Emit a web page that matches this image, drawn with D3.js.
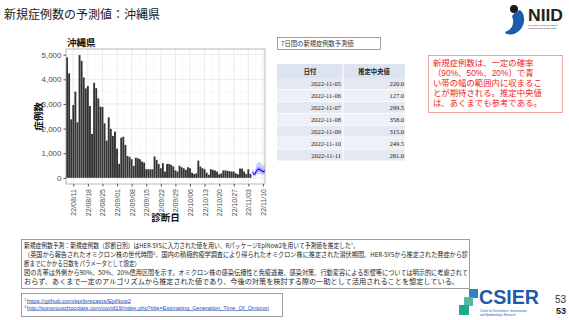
<!DOCTYPE html>
<html>
<head>
<meta charset="utf-8">
<script src="https://cdn.jsdelivr.net/npm/d3@7"></script>
<style>
  body { margin: 0; background: #fff; }
  svg { display: block; }
  text { font-family: "Noto Sans CJK JP", "Noto Sans", sans-serif; }
</style>
</head>
<body>
<div id="vue"></div>
<script>
// --- données ---
var obsStart = "2022-08-08";
var observed = [4890, 4240, 2375, 2955, 3500, 2255, 4980, 4750, 4075, 3630, 3725, 2915, 1780, 3860,
  3640, 3225, 2890, 2875, 2210, 1510, 2455, 1985, 1700, 1875, 1185, 570, 1630, 1670, 1335, 890,
  850, 755, 485, 820, 795, 755, 660, 620, 350, 350, 345, 350, 865, 730, 565, 390, 595, 255, 565,
  565, 525, 460, 300, 255, 490, 430, 390, 325, 430, 390, 210, 155, 180, 700, 460, 390, 350, 210,
  130, 350, 325, 300, 255, 145, 180, 300, 300, 285, 270, 255, 255, 180, 145, 375, 375, 255, 155,
  350, 160];

var fcDates = ["2022-11-05", "2022-11-06", "2022-11-07", "2022-11-08", "2022-11-09", "2022-11-10", "2022-11-11"];
var fcMedian = [220.0, 127.0, 299.5, 358.0, 315.0, 249.5, 281.0];
var fcLo90 = [100, 50, 140, 170, 150, 110, 120];
var fcHi90 = [380, 250, 560, 650, 600, 480, 540];
var fcLo50 = [160, 90, 210, 260, 230, 180, 200];
var fcHi50 = [290, 170, 400, 470, 420, 340, 370];
var fcLo20 = [195, 112, 265, 320, 280, 220, 250];
var fcHi20 = [245, 142, 335, 400, 355, 280, 315];

var yTicks = [0, 1000, 2000, 3000, 4000, 5000];
var xTicks = ["2022-08-11", "2022-08-18", "2022-08-25", "2022-09-01", "2022-09-08", "2022-09-15",
  "2022-09-22", "2022-09-29", "2022-10-06", "2022-10-13", "2022-10-20", "2022-10-27",
  "2022-11-03", "2022-11-10"];

var noteLines = [
  "新規症例数予測：新規症例数（診断日別）はHER-SYSに入力された値を用い、RパッケージEpiNow2を用いて予測値を推定した¹。",
  "（英国から報告されたオミクロン株の世代時間²、国内の積極的疫学調査により得られたオミクロン株に推定された潜伏期間、HER-SYSから推定された発症から診",
  "断までにかかる日数をパラメータとして設定）",
  "図の青帯は外側から90%、50%、20%信用区間を示す。オミクロン株の感染伝播性と免疫逃避、感染対策、行動変容による影響等については明示的に考慮されて",
  "おらず、あくまで一定のアルゴリズムから推定された値であり、今後の対策を検討する際の一助として活用されることを想定している。"
];
var noteWidths = [335, 444, 116, 444, 435];

var redLines = [
  "新規症例数は、一定の確率",
  "（90%、50%、20%）で青",
  "い帯の幅の範囲内に収まるこ",
  "とが期待される。推定中央値",
  "は、あくまでも参考である。"
];

var links = [
  "https://github.com/epiforecasts/EpiNow2",
  "http://sonorouschocolate.com/covid19/index.php?title=Estimating_Generation_Time_Of_Omicron"
];
var linkWidths = [104, 242];

var parse = d3.timeParse("%Y-%m-%d");
var day0 = parse(obsStart);
var obsData = observed.map(function (v, i) { return { date: d3.timeDay.offset(day0, i), value: v }; });
var fcData = fcDates.map(function (d, i) {
  return { date: parse(d), med: fcMedian[i], lo90: fcLo90[i], hi90: fcHi90[i],
    lo50: fcLo50[i], hi50: fcHi50[i], lo20: fcLo20[i], hi20: fcHi20[i] };
});

var W = 569, H = 320;
var svg = d3.select("#vue").append("svg").attr("width", W).attr("height", H);

// titre de la page
svg.append("text").attr("x", 4).attr("y", 19).attr("font-size", 12).attr("fill", "#222")
  .text("新規症例数の予測値：沖縄県");

// --- graphique ---
var P = { l: 66, r: 265, t: 49, b: 184 };
var x = d3.scaleTime()
  .domain([d3.timeHour.offset(day0, -12), parse("2022-11-11")])
  .range([P.l, P.r]);
var y = d3.scaleLinear().domain([-250, 5230]).range([P.b, P.t]);
var dayW = x(d3.timeDay.offset(day0, 1)) - x(day0);

var g = svg.append("g");
g.append("rect").attr("x", P.l).attr("y", P.t).attr("width", P.r - P.l).attr("height", P.b - P.t)
  .attr("fill", "#fff");

// grille mineure
var yMinor = d3.range(500, 5230, 1000);
g.selectAll("line.ymin").data(yMinor).enter().append("line")
  .attr("x1", P.l).attr("x2", P.r).attr("y1", function (d) { return y(d); }).attr("y2", function (d) { return y(d); })
  .attr("stroke", "#f3f3f3").attr("stroke-width", 0.5);
var xMinor = xTicks.map(function (d) { return d3.timeHour.offset(parse(d), -84); });
g.selectAll("line.xmin").data(xMinor).enter().append("line")
  .attr("y1", P.t).attr("y2", P.b).attr("x1", function (d) { return x(d); }).attr("x2", function (d) { return x(d); })
  .attr("stroke", "#f3f3f3").attr("stroke-width", 0.5);
// grille majeure
g.selectAll("line.ymaj").data(yTicks).enter().append("line")
  .attr("x1", P.l).attr("x2", P.r).attr("y1", function (d) { return y(d); }).attr("y2", function (d) { return y(d); })
  .attr("stroke", "#e6e6e6").attr("stroke-width", 0.8);
g.selectAll("line.xmaj").data(xTicks).enter().append("line")
  .attr("y1", P.t).attr("y2", P.b).attr("x1", function (d) { return x(parse(d)); }).attr("x2", function (d) { return x(parse(d)); })
  .attr("stroke", "#e6e6e6").attr("stroke-width", 0.8);

// barres
g.selectAll("rect.bar").data(obsData).enter().append("rect")
  .attr("x", function (d) { return x(d.date) - dayW * 0.45; })
  .attr("width", dayW * 0.9)
  .attr("y", function (d) { return y(d.value); })
  .attr("height", function (d) { return y(0) - y(d.value); })
  .attr("fill", "#333");

// bandes de prévision
function band(lo, hi) {
  return d3.area().x(function (d) { return x(d.date); })
    .y0(function (d) { return y(d[lo]); }).y1(function (d) { return y(d[hi]); });
}
[["lo90", "hi90"], ["lo50", "hi50"], ["lo20", "hi20"]].forEach(function (b) {
  g.append("path").datum(fcData).attr("d", band(b[0], b[1]))
    .attr("fill", "#2020ff").attr("fill-opacity", 0.22);
});
g.append("path").datum(fcData)
  .attr("d", d3.line().x(function (d) { return x(d.date); }).y(function (d) { return y(d.med); }))
  .attr("fill", "none").attr("stroke", "#0000e0").attr("stroke-width", 1);

// cadre
g.append("rect").attr("x", P.l).attr("y", P.t).attr("width", P.r - P.l).attr("height", P.b - P.t)
  .attr("fill", "none").attr("stroke", "#9a9a9a").attr("stroke-width", 0.7);

// axes
var yAxis = d3.axisLeft(y).tickValues(yTicks).tickFormat(d3.format(",")).tickSize(2.5).tickPadding(2);
var ya = g.append("g").attr("transform", "translate(" + P.l + ",0)").call(yAxis);
ya.select(".domain").remove();
ya.selectAll("text").attr("font-size", 8).attr("fill", "#4d4d4d").style("font-family", "Liberation Sans, Arial, sans-serif");
ya.selectAll("line").attr("stroke", "#555");

var xAxis = d3.axisBottom(x).tickValues(xTicks.map(parse)).tickFormat(d3.timeFormat("%y/%m/%d")).tickSize(2.5).tickPadding(2);
var xa = g.append("g").attr("transform", "translate(0," + P.b + ")").call(xAxis);
xa.select(".domain").remove();
xa.selectAll("line").attr("stroke", "#555");
xa.selectAll("text").attr("font-size", 7).attr("fill", "#4d4d4d")
  .style("font-family", "Liberation Sans, Arial, sans-serif")
  .attr("transform", "rotate(-90)").attr("text-anchor", "end")
  .attr("x", -5).attr("y", 0).attr("dy", "0.35em");

g.append("text").attr("x", 67).attr("y", 45.5).attr("font-size", 9.5).attr("font-weight", "bold")
  .attr("fill", "#111").text("沖縄県");
g.append("text").attr("transform", "translate(42," + ((P.t + P.b) / 2) + ") rotate(-90)")
  .attr("text-anchor", "middle").attr("font-size", 9.5).attr("font-weight", "bold").attr("fill", "#111")
  .text("症例数");
g.append("text").attr("x", (P.l + P.r) / 2).attr("y", 221).attr("text-anchor", "middle")
  .attr("font-size", 9.5).attr("font-weight", "bold").attr("fill", "#111").text("診断日");

// --- tableau ---
svg.append("rect").attr("x", 277.5).attr("y", 37.5).attr("width", 103).attr("height", 12)
  .attr("fill", "#fff").attr("stroke", "#777").attr("stroke-width", 0.7);
svg.append("text").attr("x", 281).attr("y", 46.2).attr("font-size", 6.3).attr("fill", "#333")
  .text("7日間の新規症例数予測値");

var T = { x: 277, w: 128, col: 343, top: 64, hh: 14, rh: 11.9 };
svg.append("rect").attr("x", T.x).attr("y", T.top).attr("width", T.w).attr("height", T.hh).attr("fill", "#dde3ef");
svg.append("text").attr("x", (T.x + T.col) / 2).attr("y", T.top + 9.5).attr("text-anchor", "middle")
  .attr("font-size", 6.3).attr("font-weight", "bold").attr("fill", "#222").text("日付");
svg.append("text").attr("x", (T.col + T.x + T.w) / 2).attr("y", T.top + 9.5).attr("text-anchor", "middle")
  .attr("font-size", 6.3).attr("font-weight", "bold").attr("fill", "#222").text("推定中央値");
var rows = svg.selectAll("g.row").data(fcData).enter().append("g")
  .attr("transform", function (d, i) { return "translate(0," + (T.top + T.hh + i * T.rh) + ")"; });
rows.append("rect").attr("x", T.x).attr("width", T.w).attr("height", T.rh - 0.8)
  .attr("fill", function (d, i) { return i % 2 ? "#edf0f7" : "#e3e8f2"; });
rows.append("text").attr("x", T.col - 2).attr("y", T.rh / 2 + 2.2).attr("text-anchor", "end")
  .attr("font-size", 6.5).style("font-family", "Liberation Serif, serif").attr("fill", "#222")
  .text(function (d) { return d3.timeFormat("%Y-%m-%d")(d.date); });
rows.append("text").attr("x", T.x + T.w - 1).attr("y", T.rh / 2 + 2.2).attr("text-anchor", "end")
  .attr("font-size", 6.5).style("font-family", "Liberation Serif, serif").attr("fill", "#222")
  .text(function (d) { return d3.format(".1f")(d.med); });
svg.append("line").attr("x1", T.col).attr("x2", T.col).attr("y1", T.top).attr("y2", T.top + T.hh + 7 * T.rh)
  .attr("stroke", "#fff").attr("stroke-width", 1);

// --- encadré rouge ---
svg.append("rect").attr("x", 428.5).attr("y", 55.5).attr("width", 134).attr("height", 57)
  .attr("fill", "#fff").attr("stroke", "#f28b8b").attr("stroke-width", 0.8);
svg.selectAll("text.red").data(redLines).enter().append("text")
  .attr("x", 433).attr("y", function (d, i) { return 66 + i * 10; })
  .attr("font-size", 8.4).attr("fill", "#ee1c1c")
  .style("font-family", "Liberation Sans, 'Noto Sans CJK JP', sans-serif")
  .text(function (d) { return d; });

// --- notes ---
svg.append("rect").attr("x", 21.5).attr("y", 239.5).attr("width", 448).attr("height", 49)
  .attr("fill", "#fff").attr("stroke", "#888").attr("stroke-width", 0.8);
svg.selectAll("text.note").data(noteLines).enter().append("text")
  .attr("x", 24).attr("y", function (d, i) { return 248 + i * 9; })
  .attr("font-size", 6.3).attr("fill", "#222")
  .attr("textLength", function (d, i) { return noteWidths[i]; })
  .attr("lengthAdjust", "spacingAndGlyphs")
  .text(function (d) { return d; });

svg.append("rect").attr("x", 21.5).attr("y", 293.5).attr("width", 261).attr("height", 23)
  .attr("fill", "#fff").attr("stroke", "#888").attr("stroke-width", 0.8);
svg.selectAll("text.link").data(links).enter().append("text")
  .attr("x", 27).attr("y", function (d, i) { return 302.5 + i * 7; })
  .attr("font-size", 5.2).attr("fill", "#1f4fb5").attr("text-decoration", "underline")
  .style("font-family", "Liberation Sans, Arial, sans-serif")
  .attr("textLength", function (d, i) { return linkWidths[i]; })
  .attr("lengthAdjust", "spacingAndGlyphs")
  .text(function (d) { return d; });
svg.selectAll("text.sup").data(links).enter().append("text")
  .attr("x", 24.5).attr("y", function (d, i) { return 300.5 + i * 7; })
  .attr("font-size", 3.3).attr("fill", "#333").text(function (d, i) { return i + 1; });

// --- logos ---
var niid = svg.append("g");
niid.append("circle").attr("cx", 514).attr("cy", 9).attr("r", 4).attr("fill", "#1a1a1a");
niid.append("path").attr("d", "M520,10 C526,14 526,28 516,33 C510,36 505,34 505,32 C512,30 515,24 512,16 C514,13 517,11 520,10 Z")
  .attr("fill", "#1c5cab");
niid.append("text").attr("x", 528).attr("y", 21).attr("font-size", 16).attr("font-weight", "bold")
  .attr("fill", "#222").style("font-family", "Liberation Sans, Arial, sans-serif").attr("textLength", 35)
  .attr("lengthAdjust", "spacingAndGlyphs").text("NIID");
["NATIONAL INSTITUTE OF", "INFECTIOUS DISEASES"].forEach(function (t, i) {
  niid.append("text").attr("x", 528).attr("y", 25.5 + i * 3).attr("font-size", 2.5).attr("fill", "#333")
    .style("font-family", "Liberation Sans, Arial, sans-serif").text(t);
});

var cs = svg.append("g");
cs.append("rect").attr("x", 469).attr("y", 289).attr("width", 9).attr("height", 9).attr("fill", "#2e86c1");
cs.append("rect").attr("x", 464).attr("y", 297).attr("width", 9).attr("height", 9).attr("fill", "#56b9a8");
cs.append("rect").attr("x", 459).attr("y", 305).attr("width", 10).attr("height", 10).attr("fill", "#1fa88f");
cs.append("text").attr("x", 479).attr("y", 304).attr("font-size", 20).attr("font-weight", "bold")
  .attr("fill", "#1e5aa8").style("font-family", "Liberation Sans, Arial, sans-serif")
  .attr("textLength", 60).attr("lengthAdjust", "spacingAndGlyphs").text("CSIER");
["Center for Surveillance, Immunization,", "and Epidemiologic Research"].forEach(function (t, i) {
  cs.append("text").attr("x", 480).attr("y", 312 + i * 3.5).attr("font-size", 2.8).attr("fill", "#1e5aa8")
    .style("font-family", "Liberation Sans, Arial, sans-serif").text(t);
});
svg.append("text").attr("x", 566).attr("y", 303).attr("text-anchor", "end").attr("font-size", 10)
  .attr("fill", "#333").style("font-family", "Liberation Sans, Arial, sans-serif").text("53");
svg.append("text").attr("x", 566).attr("y", 314).attr("text-anchor", "end").attr("font-size", 9)
  .attr("font-weight", "bold").attr("fill", "#222").style("font-family", "Liberation Sans, Arial, sans-serif").text("53");
</script>
</body>
</html>
